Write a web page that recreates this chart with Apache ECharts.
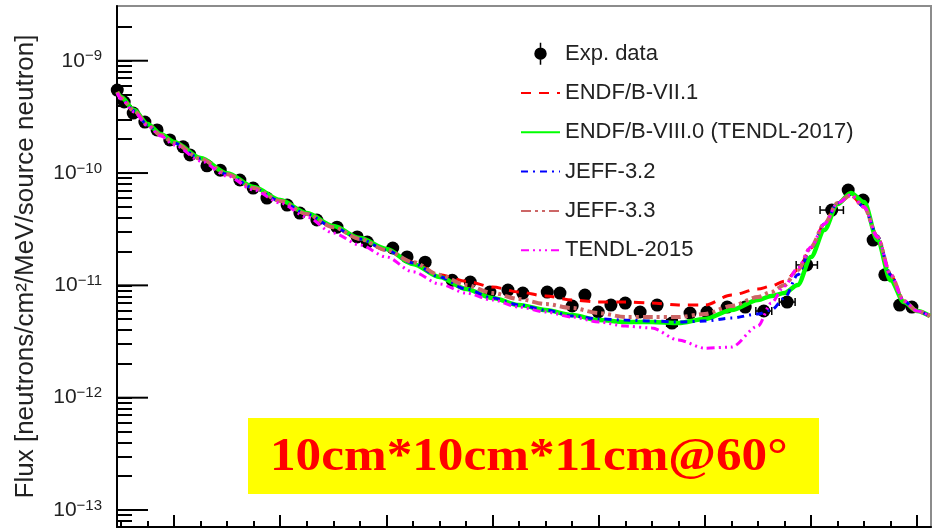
<!DOCTYPE html>
<html>
<head>
<meta charset="utf-8">
<script src="https://cdn.jsdelivr.net/npm/echarts@6.0.0/dist/echarts.min.js"></script>
<style>
  html, body { margin: 0; padding: 0; background: #fff; }
  #chart { width: 933px; height: 531px; }
</style>
</head>
<body>
<div id="chart"></div>
<script>
// energy grid (MeV) of the calculated spectra
const energy = [0.93, 1, 1.25, 1.5, 1.75, 2, 2.5, 3, 3.5, 4, 4.5, 5, 5.5, 6, 6.5, 7, 7.5, 8, 8.5, 9,
  9.5, 10, 10.5, 11, 11.5, 12, 12.5, 13, 13.25, 13.5, 13.75, 14, 14.25, 14.5, 14.75, 15, 15.25, 15.5, 15.75, 16, 16.24]

// flux per library, same length as energy
const endfb71 = [5.26e-10, 4.75e-10, 3.64e-10, 2.73e-10, 2.18e-10, 1.85e-10, 1.34e-10, 9.76e-11, 7.35e-11, 5.64e-11,
  4.31e-11, 3.30e-11, 2.59e-11, 2.06e-11, 1.61e-11, 1.24e-11, 1.09e-11, 9.66e-12, 8.72e-12, 8.04e-12,
  7.40e-12, 7.10e-12, 7.10e-12, 6.96e-12, 6.68e-12, 6.68e-12, 8.20e-12, 9.27e-12, 9.86e-12, 1.09e-11,
  1.37e-11, 2.15e-11, 3.52e-11, 5.41e-11, 6.37e-11, 4.98e-11, 2.75e-11, 1.24e-11, 7.25e-12, 5.91e-12, 5.33e-12]
const endfb80 = [5.26e-10, 4.75e-10, 3.64e-10, 2.73e-10, 2.23e-10, 1.89e-10, 1.36e-10, 9.96e-11, 7.51e-11, 5.75e-11,
  4.40e-11, 3.37e-11, 2.64e-11, 2.11e-11, 1.55e-11, 1.19e-11, 9.27e-12, 7.71e-12, 6.68e-12, 6.03e-12,
  5.44e-12, 4.91e-12, 4.72e-12, 4.72e-12, 4.62e-12, 5.02e-12, 6.03e-12, 7.40e-12, 8.04e-12, 8.54e-12,
  1.006e-11, 1.79e-11, 3.11e-11, 5.30e-11, 6.64e-11, 5.52e-11, 2.53e-11, 1.11e-11, 7.10e-12, 5.91e-12, 5.33e-12]
const jeff32 = [5.15e-10, 4.65e-10, 3.57e-10, 2.68e-10, 2.18e-10, 1.85e-10, 1.34e-10, 9.76e-11, 7.35e-11, 5.64e-11,
  4.31e-11, 3.30e-11, 2.59e-11, 2.06e-11, 1.58e-11, 1.19e-11, 9.27e-12, 7.71e-12, 6.68e-12, 6.03e-12,
  5.33e-12, 5.02e-12, 4.91e-12, 4.81e-12, 4.72e-12, 4.81e-12, 5.12e-12, 5.56e-12, 6.03e-12, 7.71e-12,
  1.24e-11, 2.15e-11, 3.52e-11, 5.41e-11, 6.37e-11, 4.98e-11, 2.75e-11, 1.24e-11, 7.25e-12, 5.91e-12, 5.33e-12]
const jeff33 = [5.26e-10, 4.65e-10, 3.57e-10, 2.68e-10, 2.18e-10, 1.85e-10, 1.34e-10, 9.76e-11, 7.35e-11, 5.64e-11,
  4.31e-11, 3.30e-11, 2.59e-11, 2.06e-11, 1.61e-11, 1.24e-11, 1.006e-11, 8.54e-12, 7.55e-12, 6.82e-12,
  6.28e-12, 5.67e-12, 5.23e-12, 5.23e-12, 5.23e-12, 5.56e-12, 6.55e-12, 7.87e-12, 8.72e-12, 1.006e-11,
  1.37e-11, 2.20e-11, 3.52e-11, 5.41e-11, 6.37e-11, 4.98e-11, 2.70e-11, 1.24e-11, 7.25e-12, 5.91e-12, 5.33e-12]
const tendl2015 = [5.15e-10, 4.56e-10, 3.49e-10, 2.63e-10, 2.14e-10, 1.78e-10, 1.28e-10, 9.41e-11, 7.06e-11, 5.41e-11,
  4.06e-11, 2.92e-11, 2.29e-11, 1.79e-11, 1.32e-11, 1.03e-11, 8.54e-12, 7.40e-12, 6.41e-12, 5.79e-12,
  5.23e-12, 4.72e-12, 4.34e-12, 4.17e-12, 3.26e-12, 2.76e-12, 2.82e-12, 4.34e-12, 6.96e-12, 9.86e-12,
  1.43e-11, 2.20e-11, 3.52e-11, 5.41e-11, 6.37e-11, 4.98e-11, 2.70e-11, 1.24e-11, 7.25e-12, 5.91e-12, 5.33e-12]

// measured points
const expEnergy = [0.93, 1.06, 1.23, 1.45, 1.68, 1.92, 2.17, 2.30, 2.62, 2.87, 3.24, 3.49, 3.75, 4.13, 4.37, 4.69, 5.07,
  5.45, 5.64, 6.12, 6.39, 6.73, 7.24, 7.58, 7.95, 8.29, 8.57, 9.03, 9.27, 9.50, 9.74, 9.99, 10.23, 10.50, 10.78,
  11.10, 11.38, 11.72, 12.04, 12.42, 12.76, 13.11, 13.55, 13.92, 14.39, 14.70, 14.98, 15.17, 15.39, 15.67, 15.90]
const expFlux = [5.48e-10, 4.29e-10, 3.42e-10, 2.84e-10, 2.42e-10, 1.97e-10, 1.71e-10, 1.45e-10, 1.16e-10, 1.06e-10,
  8.67e-11, 7.35e-11, 5.99e-11, 5.19e-11, 4.40e-11, 3.82e-11, 3.30e-11, 2.70e-11, 2.43e-11, 2.15e-11, 1.79e-11,
  1.61e-11, 1.11e-11, 1.07e-11, 8.72e-12, 9.08e-12, 8.54e-12, 8.72e-12, 8.54e-12, 6.55e-12, 8.20e-12, 5.79e-12,
  6.68e-12, 6.96e-12, 5.79e-12, 6.68e-12, 4.62e-12, 5.67e-12, 5.79e-12, 6.41e-12, 6.41e-12, 5.91e-12, 7.10e-12,
  1.52e-11, 4.68e-11, 7.06e-11, 5.75e-11, 2.53e-11, 1.24e-11, 6.68e-12, 6.41e-12]
// horizontal (energy) error, MeV
const expErrE = [0, 0, 0, 0, 0, 0, 0, 0, 0, 0, 0, 0, 0, 0, 0, 0, 0, 0, 0, 0, 0, 0, 0, 0, 0, 0, 0, 0, 0, 0, 0, 0,
  0, 0, 0, 0, 0.1, 0, 0, 0, 0, 0.15, 0.15, 0.2, 0.22, 0, 0, 0, 0, 0, 0]

// axis ticks
const xMajorTicks = [2, 4, 6, 8, 10, 12, 14, 16]
const xMinorTicks = [1, 1.5, 2.5, 3, 3.5, 4.5, 5, 5.5, 6.5, 7, 7.5, 8.5, 9, 9.5, 10.5, 11, 11.5, 12.5, 13, 13.5, 14.5, 15, 15.5]
const yMajorTicks = [1e-13, 1e-12, 1e-11, 1e-10, 1e-9]
const yMinorTicks = [
  8e-14, 9e-14,
  2e-13, 3e-13, 4e-13, 5e-13, 6e-13, 7e-13, 8e-13, 9e-13,
  2e-12, 3e-12, 4e-12, 5e-12, 6e-12, 7e-12, 8e-12, 9e-12,
  2e-11, 3e-11, 4e-11, 5e-11, 6e-11, 7e-11, 8e-11, 9e-11,
  2e-10, 3e-10, 4e-10, 5e-10, 6e-10, 7e-10, 8e-10, 9e-10,
  2e-9,
]

const xMin = 0.925
const xMax = 16.26
const yMin = 7.06e-14
const yMax = 3.07e-9
const font = 'Liberation Sans, Arial, sans-serif'

const gridLeft = 117
const gridRight = 2
const gridTop = 6
const gridBottom = 4
const plotH = 531 - gridTop - gridBottom

const pairs = (xs, ys) => xs.map((x, i) => [x, ys[i]])

const lineSeries = (name, values, color, width, dash) => ({
  name: name,
  type: 'line',
  data: pairs(energy, values),
  symbol: 'none',
  smooth: 0.3,
  smoothMonotone: 'x',
  lineStyle: { color: color, width: width, type: dash },
  itemStyle: { color: color },
  z: 3,
})

// yellow label box
const annotation = [
  {
    type: 'rect',
    shape: { x: 248, y: 418, width: 571, height: 76 },
    style: { fill: '#ffff00' },
    z: 10,
  },
  {
    type: 'text',
    x: 270,
    y: 458,
    scaleX: 1.09,
    style: {
      text: '10cm*10cm*11cm@60°',
      font: 'bold 47px "Liberation Serif", "Times New Roman", serif',
      fill: '#ff0000',
      verticalAlign: 'middle',
    },
    z: 11,
  },
]

const chart = echarts.init(document.getElementById('chart'))

const option = {
  animation: false,
  backgroundColor: '#fff',
  grid: {
    left: gridLeft,
    right: gridRight,
    top: gridTop,
    bottom: gridBottom,
    show: true,
    borderColor: '#8c8c8c',
    borderWidth: 2,
  },
  legend: {
    orient: 'vertical',
    left: 515,
    top: 37.7,
    itemWidth: 39,
    itemHeight: 22,
    itemGap: 17.3,
    selectedMode: false,
    itemStyle: { color: 'transparent', borderWidth: 0 },
    textStyle: { fontSize: 22, lineHeight: 22, color: '#222', fontFamily: font },
    data: [
      {
        name: 'Exp. data',
        icon: 'path://M-6.5,0a6.5,6.5 0 1,1 13,0a6.5,6.5 0 1,1 -13,0z M-0.8,-11.5h1.6v5h-1.6z M-0.8,6.5h1.6v5h-1.6z',
        itemStyle: { color: '#000' },
      },
      'ENDF/B-VII.1',
      'ENDF/B-VIII.0 (TENDL-2017)',
      'JEFF-3.2',
      'JEFF-3.3',
      'TENDL-2015',
    ],
  },
  xAxis: [
    {
      type: 'value',
      min: xMin,
      max: xMax,
      position: 'bottom',
      axisLine: { show: true, onZero: false, lineStyle: { color: '#000', width: 2 } },
      axisTick: { show: true, inside: true, length: 12, customValues: xMajorTicks, lineStyle: { color: '#000', width: 2 } },
      axisLabel: { show: false },
      splitLine: { show: false },
    },
    {
      // minor ticks: a top axis moved down onto the bottom edge
      type: 'value',
      min: xMin,
      max: xMax,
      position: 'top',
      offset: -plotH,
      axisLine: { show: false, onZero: false },
      axisTick: { show: true, inside: false, length: 6, customValues: xMinorTicks, lineStyle: { color: '#000', width: 2 } },
      axisLabel: { show: false },
      splitLine: { show: false },
    },
  ],
  yAxis: {
    type: 'log',
    logBase: 10,
    min: yMin,
    max: yMax,
    position: 'left',
    name: 'Flux [neutrons/cm²/MeV/source neutron]',
    nameLocation: 'middle',
    nameGap: 78,
    nameTextStyle: { fontSize: 26, color: '#222', fontFamily: font },
    axisLine: { show: true, onZero: false, lineStyle: { color: '#000', width: 2 } },
    // every decade and 2..9 sub-decade tick, short; decades are lengthened below
    axisTick: {
      show: true,
      inside: true,
      length: 15,
      customValues: yMajorTicks.concat(yMinorTicks),
      lineStyle: { color: '#000', width: 2 },
    },
    axisLabel: {
      customValues: yMajorTicks,
      margin: 15,
      formatter: (v) => '{b|10}{s|−' + Math.abs(Math.round(Math.log10(v))) + '}',
      rich: {
        b: { fontSize: 21, lineHeight: 24, color: '#222', fontFamily: font },
        s: { fontSize: 15, lineHeight: 15, color: '#222', fontFamily: font, verticalAlign: 'top' },
      },
    },
    splitLine: { show: false },
  },
  series: [
    {
      // long decade ticks, placed through the axis scale
      name: 'decade ticks',
      type: 'custom',
      silent: true,
      data: yMajorTicks.map((v) => [xMin, v]),
      renderItem: (params, api) => {
        const p = api.coord([api.value(0), api.value(1)])
        return {
          type: 'line',
          shape: { x1: p[0], y1: p[1], x2: p[0] + 31, y2: p[1] },
          style: { stroke: '#000', lineWidth: 2 },
        }
      },
      z: 4,
    },
    {
      name: 'Exp. data',
      type: 'scatter',
      data: pairs(expEnergy, expFlux),
      symbol: 'circle',
      symbolSize: 13,
      itemStyle: { color: '#000', opacity: 1 },
      z: 2,
    },
    {
      name: 'Exp. error',
      type: 'custom',
      data: expEnergy.map((e, i) => [e, expFlux[i], expErrE[i]]).filter((d) => d[2] > 0),
      renderItem: (params, api) => {
        const lo = api.coord([api.value(0) - api.value(2), api.value(1)])
        const hi = api.coord([api.value(0) + api.value(2), api.value(1)])
        const st = { stroke: '#000', lineWidth: 1.5 }
        return {
          type: 'group',
          children: [
            { type: 'line', shape: { x1: lo[0], y1: lo[1], x2: hi[0], y2: hi[1] }, style: st },
            { type: 'line', shape: { x1: lo[0], y1: lo[1] - 4, x2: lo[0], y2: lo[1] + 4 }, style: st },
            { type: 'line', shape: { x1: hi[0], y1: hi[1] - 4, x2: hi[0], y2: hi[1] + 4 }, style: st },
          ],
        }
      },
      z: 2,
    },
    lineSeries('ENDF/B-VII.1', endfb71, '#ff0000', 3, [10, 8]),
    lineSeries('ENDF/B-VIII.0 (TENDL-2017)', endfb80, '#00ff00', 4.5, 'solid'),
    lineSeries('JEFF-3.2', jeff32, '#0000ff', 3, [7, 5, 2, 5]),
    lineSeries('JEFF-3.3', jeff33, '#cc6666', 4, [10, 4, 3, 4, 3, 4]),
    lineSeries('TENDL-2015', tendl2015, '#ff00ff', 3, [8, 4, 2, 4, 2, 4, 2, 4]),
  ],
  graphic: annotation,
}

chart.setOption(option)
</script>
</body>
</html>
